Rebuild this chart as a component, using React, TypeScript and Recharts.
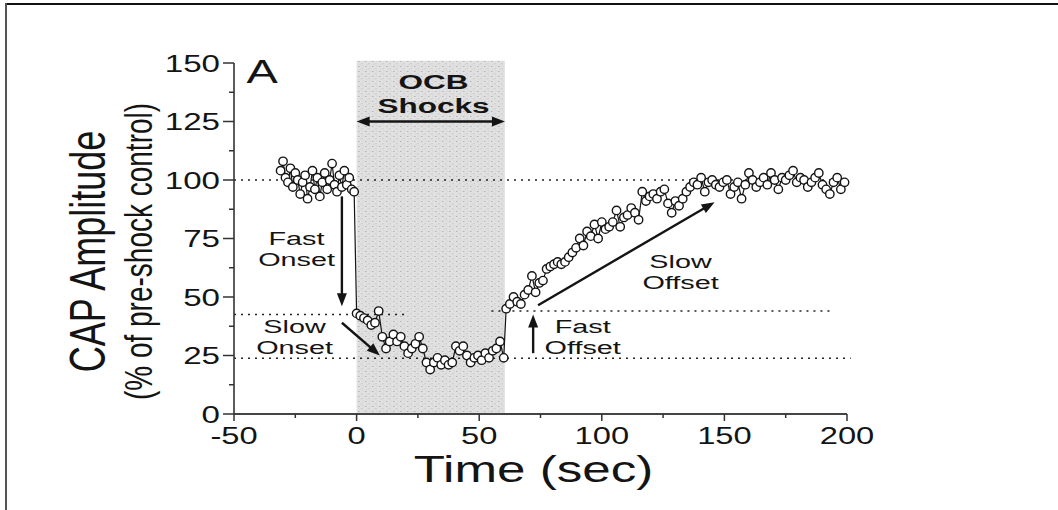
import {
  ComposedChart,
  Line,
  XAxis,
  YAxis,
  ReferenceArea,
  ReferenceLine,
  ReferenceDot,
} from "recharts"

// Time (sec) and CAP amplitude (% of pre-shock control)
const baselineTime = [-31, -30, -29, -28, -27, -26, -25, -24, -23, -22, -21, -20, -19, -18, -17, -16, -15, -14, -13, -12, -11, -10, -9, -8, -7, -6, -5, -4, -3, -2, -1]
const baselineCap = [104, 108, 101, 99, 105, 97, 103, 100, 94, 99, 102, 92, 97, 104, 96, 101, 93, 99, 103, 96, 100, 107, 98, 95, 102, 97, 104, 98, 101, 96, 95]

const shockTime = [0, 1.5, 3, 4.5, 6, 7.5, 9, 10.5, 12, 13.5, 15, 16.5, 18, 19.5, 21, 22.5, 24, 25.5, 27, 28.5, 30, 31.5, 33, 34.5, 36, 37.5, 39, 40.5, 42, 43.5, 45, 46.5, 48, 49.5, 51, 52.5, 54, 55.5, 57, 58.5, 60]
const shockCap = [43, 42, 41, 40, 38, 39, 44, 33, 28, 31, 34, 31, 33, 29, 26, 28, 30, 33, 28, 22, 19, 22, 24, 21, 23, 21, 22, 29, 27, 29, 25, 22, 24, 25, 23, 26, 24, 27, 28, 31, 24]

const recoveryTime = [61, 62.5, 64, 65.5, 67, 68.5, 70, 71.5, 73, 74.5, 76, 77.5, 79, 80.5, 82, 83.5, 85, 86.5, 88, 89.5, 91, 92.5, 94, 95.5, 97, 98.5, 100, 101.5, 103, 104.5, 106, 107.5, 109, 110.5, 112, 113.5, 115, 116.5, 118, 119.5, 121, 122.5, 124, 125.5, 127, 128.5, 130, 131.5, 133, 134.5, 136, 137.5, 139, 140.5, 142, 143.5, 145, 146.5, 148, 149.5, 151, 152.5, 154, 155.5, 157, 158.5, 160, 161.5, 163, 164.5, 166, 167.5, 169, 170.5, 172, 173.5, 175, 176.5, 178, 179.5, 181, 182.5, 184, 185.5, 187, 188.5, 190, 191.5, 193, 194.5, 196, 197.5, 199]
const recoveryCap = [45, 47, 50, 48, 47, 51, 53, 59, 52, 56, 57, 62, 63, 64, 65, 64, 65, 67, 69, 71, 75, 72, 78, 76, 81, 75, 82, 79, 80, 82, 87, 80, 84, 85, 88, 86, 83, 95, 91, 93, 94, 92, 95, 96, 90, 86, 91, 89, 92, 95, 97, 99, 98, 101, 95, 99, 100, 98, 97, 99, 100, 94, 97, 99, 92, 98, 103, 100, 97, 99, 101, 98, 103, 100, 96, 101, 100, 102, 104, 99, 101, 100, 97, 99, 101, 103, 98, 96, 94, 99, 101, 96, 99]

const xTicks = [-50, -25, 0, 25, 50, 75, 100, 125, 150, 175, 200]
const yTicks = [0, 12.5, 25, 37.5, 50, 62.5, 75, 87.5, 100, 112.5, 125, 137.5, 150]

// shock window and the dotted guide levels
const shockWindow = { start: 0, end: 60.5, top: 151 }
const guides = [
  { level: 100, from: -50, to: 200 },
  { level: 42.5, from: -50, to: 21 },
  { level: 44, from: 55, to: 193 },
  { level: 23.8, from: -50, to: 201.5 },
]

// annotation arrows: [t0, v0] -> [t1, v1]
const arrows = [
  { from: [-6, 93], to: [-6, 46], both: false },
  { from: [-6, 39], to: [9.5, 25], both: false },
  { from: [72, 26], to: [72, 42.5], both: false },
  { from: [74, 46.5], to: [146, 90.5], both: false },
  { from: [0, 125], to: [60.5, 125], both: true },
]

const notes = [
  { t: -44.9, v: 141.5, text: "A", size: 34, sx: 1.38, anchor: "start", weight: "normal" },
  { t: 31.4, v: 139, text: "OCB", size: 21, sx: 1.5, anchor: "middle", weight: "bold" },
  { t: 31.4, v: 128.6, text: "Shocks", size: 21, sx: 1.5, anchor: "middle", weight: "bold" },
  { t: -24.5, v: 72.2, text: "Fast", size: 18, sx: 1.6, anchor: "middle", weight: "normal" },
  { t: -24.5, v: 63.2, text: "Onset", size: 18, sx: 1.6, anchor: "middle", weight: "normal" },
  { t: -25.3, v: 34.6, text: "Slow", size: 18, sx: 1.6, anchor: "middle", weight: "normal" },
  { t: -25.3, v: 25.6, text: "Onset", size: 18, sx: 1.6, anchor: "middle", weight: "normal" },
  { t: 92.2, v: 34.6, text: "Fast", size: 18, sx: 1.6, anchor: "middle", weight: "normal" },
  { t: 92.2, v: 25.6, text: "Offset", size: 18, sx: 1.6, anchor: "middle", weight: "normal" },
  { t: 132.1, v: 62.4, text: "Slow", size: 18, sx: 1.6, anchor: "middle", weight: "normal" },
  { t: 132.1, v: 53.4, text: "Offset", size: 18, sx: 1.6, anchor: "middle", weight: "normal" },
]

const data = [
  ...baselineTime.map((t, i) => ({ time: t, cap: baselineCap[i] })),
  ...shockTime.map((t, i) => ({ time: t, cap: shockCap[i] })),
  ...recoveryTime.map((t, i) => ({ time: t, cap: recoveryCap[i] })),
]

const FONT = "'Liberation Sans', Arial, Helvetica, sans-serif"
const INK = "#141414"
// the scanned figure is stretched sideways
const SX = 1.38

function StretchText({ x, y, size, sx = SX, anchor = "middle", weight = "normal", rotate = false, children }: any) {
  return (
    <text
      transform={`translate(${x},${y}) scale(${sx},1)${rotate ? " rotate(-90)" : ""}`}
      textAnchor={anchor}
      fontSize={size}
      fontWeight={weight}
      fontFamily={FONT}
      fill={INK}
    >
      {children}
    </text>
  )
}

function XTick({ x, y, payload }: any) {
  const major = payload.value % 50 === 0
  return (
    <g>
      <line x1={x} y1={y} x2={x} y2={y + (major ? 7 : 4)} stroke="#333" strokeWidth={1.5} />
      {major && (
        <StretchText x={x} y={y + 30} size={23} sx={1.42}>
          {payload.value}
        </StretchText>
      )}
    </g>
  )
}

function YTick({ x, y, payload }: any) {
  const major = payload.value % 25 === 0
  return (
    <g>
      <line x1={x - (major ? 11 : 5)} y1={y} x2={x} y2={y} stroke="#333" strokeWidth={1.5} />
      {major && (
        <StretchText x={x - 14} y={y + 8.5} size={24} anchor="end">
          {payload.value}
        </StretchText>
      )}
    </g>
  )
}

function arrowShape(both: boolean) {
  return (p: any) => {
    const { x1, y1, x2, y2 } = p
    const len = Math.hypot(x2 - x1, y2 - y1) || 1
    const ux = (x2 - x1) / len
    const uy = (y2 - y1) / len
    const L = 13
    const W = 5
    const head = (tx: number, ty: number, dx: number, dy: number) =>
      `${tx},${ty} ${tx - dx * L - dy * W},${ty - dy * L + dx * W} ${tx - dx * L + dy * W},${ty - dy * L - dx * W}`
    return (
      <g>
        <line
          x1={both ? x1 + ux * (L - 2) : x1}
          y1={both ? y1 + uy * (L - 2) : y1}
          x2={x2 - ux * (L - 2)}
          y2={y2 - uy * (L - 2)}
          stroke={INK}
          strokeWidth={2.4}
        />
        <polygon points={head(x2, y2, ux, uy)} fill={INK} />
        {both && <polygon points={head(x1, y1, -ux, -uy)} fill={INK} />}
      </g>
    )
  }
}

export default function App() {
  return (
    <div style={{ position: "absolute", left: 0, top: 0, width: 1058, height: 510, background: "#fff" }}>
      <div style={{ position: "absolute", left: 5, top: 3, width: 1053, height: 2, background: "#111" }} />
      <div style={{ position: "absolute", left: 5, top: 3, width: 2, height: 507, background: "#555" }} />
      <ComposedChart
        width={1058}
        height={510}
        data={data}
        margin={{ top: 63, right: 211, bottom: 56, left: 174 }}
      >
        <defs>
          <pattern id="speckle" width="7" height="5" patternUnits="userSpaceOnUse">
            <rect width="7" height="5" fill="#e1e1e1" />
            <rect x="1" y="1" width="1.5" height="1" fill="#b4b4b4" />
            <rect x="4.5" y="3" width="1" height="1.2" fill="#c0c0c0" />
            <rect x="2.5" y="3.8" width="1" height="1" fill="#cdcdcd" />
            <rect x="5.5" y="0.5" width="1" height="1" fill="#cacaca" />
          </pattern>
        </defs>
        <XAxis
          dataKey="time"
          type="number"
          domain={[-50, 200]}
          ticks={xTicks}
          interval={0}
          tickSize={0}
          tickMargin={0}
          tickLine={false}
          tick={<XTick />}
          axisLine={{ stroke: "#444", strokeWidth: 2 }}
          height={40}
          label={{
            content: ({ viewBox }: any) => (
              <StretchText x={viewBox.x + viewBox.width / 2 - 7} y={viewBox.y + 68} size={36} sx={1.42}>
                Time (sec)
              </StretchText>
            ),
          }}
        />
        <YAxis
          type="number"
          domain={[0, 150]}
          ticks={yTicks}
          interval={0}
          tickSize={0}
          tickMargin={0}
          tickLine={false}
          tick={<YTick />}
          axisLine={{ stroke: "#333", strokeWidth: 1.6 }}
          width={60}
          label={{
            content: ({ viewBox }: any) => (
              <g>
                <StretchText x={viewBox.x - 69} y={viewBox.y + viewBox.height / 2 + 13} size={36} rotate>
                  CAP Amplitude
                </StretchText>
                <StretchText x={viewBox.x - 22} y={viewBox.y + viewBox.height / 2 + 13} size={28} rotate>
                  (% of pre-shock control)
                </StretchText>
              </g>
            ),
          }}
        />
        <ReferenceArea
          x1={shockWindow.start}
          x2={shockWindow.end}
          y1={0}
          y2={shockWindow.top}
          fill="url(#speckle)"
          fillOpacity={1}
          stroke="none"
          ifOverflow="visible"
        />
        {guides.map((g, i) => (
          <ReferenceLine
            key={`g${i}`}
            segment={[
              { x: g.from, y: g.level },
              { x: g.to, y: g.level },
            ]}
            stroke="#222"
            strokeWidth={1.6}
            strokeDasharray="2 5"
            ifOverflow="visible"
          />
        ))}
        <Line
          dataKey="cap"
          type="linear"
          stroke={INK}
          strokeWidth={1.2}
          dot={{ r: 4.2, stroke: INK, strokeWidth: 1.4, fill: "#fff" }}
          activeDot={false}
          isAnimationActive={false}
        />
        {arrows.map((a, i) => (
          <ReferenceLine
            key={`a${i}`}
            segment={[
              { x: a.from[0], y: a.from[1] },
              { x: a.to[0], y: a.to[1] },
            ]}
            ifOverflow="visible"
            shape={arrowShape(a.both)}
          />
        ))}
        {notes.map((n, i) => (
          <ReferenceDot
            key={`n${i}`}
            x={n.t}
            y={n.v}
            r={0}
            ifOverflow="visible"
            shape={(p: any) => (
              <StretchText x={p.cx} y={p.cy} size={n.size} sx={n.sx} anchor={n.anchor} weight={n.weight}>
                {n.text}
              </StretchText>
            )}
          />
        ))}
      </ComposedChart>
    </div>
  )
}
